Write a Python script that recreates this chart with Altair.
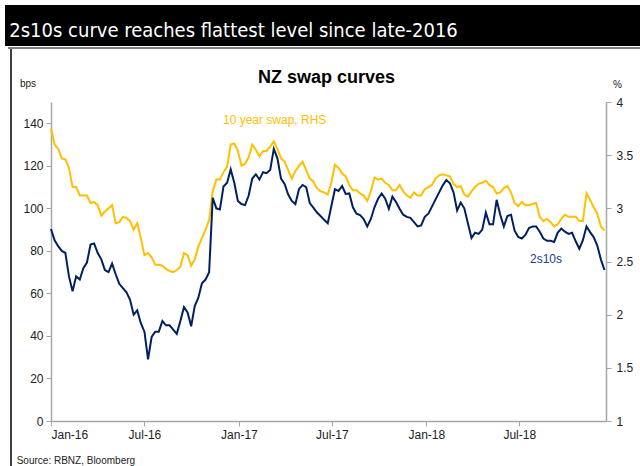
import altair as alt
import pandas as pd

# NZ 10 year swap rate, % (weekly readings from 1 Jan 2016)
swap10_pct = [
    3.75, 3.60, 3.56, 3.47, 3.46, 3.38, 3.20, 3.20, 3.12, 3.12,
    3.12, 3.05, 3.06, 3.03, 2.93, 2.97, 3.00, 3.03, 2.86, 2.87,
    2.92, 2.91, 2.88, 2.80, 2.86, 2.72, 2.56, 2.58, 2.54, 2.47,
    2.47, 2.46, 2.43, 2.41, 2.40, 2.42, 2.45, 2.58, 2.56, 2.46,
    2.52, 2.64, 2.72, 2.80, 2.89, 3.16, 3.27, 3.27, 3.34, 3.39,
    3.60, 3.61, 3.54, 3.40, 3.42, 3.48, 3.60, 3.55, 3.49, 3.54,
    3.54, 3.58, 3.63, 3.56, 3.47, 3.44, 3.36, 3.28, 3.35, 3.40,
    3.44, 3.36, 3.28, 3.25, 3.19, 3.16, 3.15, 3.13, 3.24, 3.41,
    3.38, 3.33, 3.30, 3.22, 3.17, 3.17, 3.14, 3.12, 3.07, 3.16,
    3.29, 3.27, 3.28, 3.24, 3.22, 3.17, 3.17, 3.22, 3.16, 3.12,
    3.10, 3.15, 3.12, 3.12, 3.18, 3.20, 3.22, 3.28, 3.31, 3.32,
    3.31, 3.30, 3.23, 3.20, 3.21, 3.13, 3.11, 3.16, 3.20, 3.23,
    3.24, 3.26, 3.22, 3.20, 3.14, 3.15, 3.19, 3.21, 3.15, 3.05,
    3.02, 3.06, 3.03, 3.03, 3.04, 3.05, 2.92, 2.88, 2.90, 2.87,
    2.83, 2.85, 2.90, 2.94, 2.92, 2.92, 2.92, 2.88, 2.88, 3.14,
    3.08, 3.01, 2.95, 2.83, 2.79,
]

# NZ 2s10s swap curve, bps (weekly readings from 1 Jan 2016)
curve_2s10s_bps = [
    90.3, 85, 82.2, 80, 79, 68, 61, 68, 66.5, 71.9,
    74.5, 83, 83.5, 79, 76, 71, 70, 74, 69, 64.5,
    62.5, 60.5, 57, 50, 52, 46, 42, 29, 39.5, 42,
    42, 47, 45, 45, 43, 41, 47, 53.5, 51, 44.5,
    54, 58, 64.8, 66.5, 70, 105, 100, 99.5, 110.3, 112,
    118.3, 112, 103.5, 102, 101.5, 106, 114, 116, 113.5, 117,
    116.5, 118.1, 128, 123.5, 114, 111.5, 106.5, 103.5, 102, 109,
    111, 110, 102.5, 100.3, 98, 96.4, 94.6, 93, 101, 109,
    108.2, 110.5, 106.8, 107, 100.5, 97.5, 96.8, 95, 91.5, 95,
    100.5, 104.5, 107, 104.5, 99.8, 105.5, 103, 99.8, 97, 96,
    95.5, 93.5, 91.5, 92, 96, 97.5, 100.8, 104.2, 107.5, 110.8,
    113.3, 111.8, 107.5, 99, 102.7, 100, 93, 86, 88.5, 88,
    90, 98, 92.5, 92.5, 104, 97, 91.5, 96.4, 97, 89.5,
    86.5, 85.8, 87.5, 90.7, 91.5, 91.5, 89, 85.8, 84.7, 84.7,
    84.2, 88.6, 90.5, 89, 88, 88.5, 84.5, 81, 85, 91.5,
    88.8, 86.5, 82.5, 76, 71,
]

left_ticks = [0, 20, 40, 60, 80, 100, 120, 140]
right_ticks = [1, 1.5, 2, 2.5, 3, 3.5, 4]
x_tick_months = [(2016, 1), (2016, 7), (2017, 1), (2017, 7), (2018, 1), (2018, 7)]

banner_text = "2s10s curve reaches flattest level since late-2016"
chart_title = "NZ swap curves"
source_text = "Source: RBNZ, Bloomberg"

annotations = pd.DataFrame({
    "date": ["2016-12-01", "2018-07-22"],
    "value": [141.6, 76.3],
    "label": ["10 year swap, RHS", "2s10s"],
    "color": ["#FFC000", "#22408C"],
})

ORANGE = "#FFC000"
NAVY = "#002060"
AXIS_GREY = "#A6A6A6"
FONT = "Liberation Sans"

df10 = pd.DataFrame({
    "date": pd.date_range("2016-01-01", periods=len(swap10_pct), freq="7D").strftime("%Y-%m-%d"),
    "value": swap10_pct,
})
df2s10s = pd.DataFrame({
    "date": pd.date_range("2016-01-01", periods=len(curve_2s10s_bps), freq="7D").strftime("%Y-%m-%d"),
    "value": curve_2s10s_bps,
})

x_scale = alt.Scale(
    type="utc",
    domain=[alt.DateTime(year=2016, month=1, date=1, utc=True),
            alt.DateTime(year=2018, month=12, date=17, utc=True)],
)
x_axis = alt.Axis(
    values=[alt.DateTime(year=y, month=m, date=1, utc=True) for y, m in x_tick_months],
    labelExpr="utcFormat(datum.value, '%b-%y')", title=None, grid=False,
    domainColor=AXIS_GREY, domainWidth=1.5, tickColor=AXIS_GREY, tickSize=5,
    labelFontSize=12, labelColor="#222222", labelPadding=3, labelFont=FONT,
)
x_enc = alt.X("date:T", scale=x_scale, axis=x_axis)

left_line = alt.Chart(df2s10s).mark_line(color=NAVY, strokeWidth=2).encode(
    x=x_enc,
    y=alt.Y("value:Q", scale=alt.Scale(domain=[0, 150], nice=False, zero=False),
            axis=alt.Axis(values=left_ticks, format="d", title=None, grid=False, orient="left",
                          domainColor=AXIS_GREY, domainWidth=1.5, tickColor=AXIS_GREY, tickSize=5,
                          labelFontSize=12, labelColor="#222222", labelPadding=3, labelFont=FONT)),
)

right_line = alt.Chart(df10).mark_line(color=ORANGE, strokeWidth=2).encode(
    x=x_enc,
    y=alt.Y("value:Q", scale=alt.Scale(domain=[1, 4], nice=False, zero=False),
            axis=alt.Axis(values=right_ticks, format="~g", title=None, grid=False, orient="right",
                          domainColor=AXIS_GREY, domainWidth=1.5, tickColor=AXIS_GREY, tickSize=5,
                          labelFontSize=12, labelColor="#222222", labelPadding=5, labelFont=FONT)),
)

ann = alt.Chart(annotations).mark_text(align="left", baseline="middle", fontSize=12, font=FONT).encode(
    x=x_enc,
    y=alt.Y("value:Q", scale=alt.Scale(domain=[0, 150], nice=False, zero=False), axis=None),
    text="label:N",
    color=alt.Color("color:N", scale=None),
)

one = pd.DataFrame({"k": [0]})

banner = alt.Chart(one).mark_rect(color="black").encode(
    x=alt.value(-46), x2=alt.value(589), y=alt.value(-97), y2=alt.value(-56)
)
banner_title = alt.Chart(one).mark_text(
    align="left", baseline="alphabetic", color="white", fontSize=20,
    font="DejaVu Sans Condensed, Liberation Sans",
).encode(x=alt.value(-41.7), y=alt.value(-65), text=alt.value(banner_text))

grey_rule = alt.Chart(one).mark_rule(color="#7F7F7F", strokeWidth=2).encode(
    x=alt.value(-43), x2=alt.value(589), y=alt.value(-54)
)
left_border = alt.Chart(one).mark_rule(color="black", strokeWidth=1.5).encode(
    x=alt.value(-40), y=alt.value(-53), y2=alt.value(364)
)
title_mark = alt.Chart(one).mark_text(
    align="center", baseline="alphabetic", fontSize=18, fontWeight="bold", font=FONT, color="black"
).encode(x=alt.value(275.5), y=alt.value(-19), text=alt.value(chart_title))
bps_mark = alt.Chart(one).mark_text(
    align="center", baseline="alphabetic", fontSize=10, font=FONT, color="#222222"
).encode(x=alt.value(-23), y=alt.value(-15.5), text=alt.value("bps"))
pct_mark = alt.Chart(one).mark_text(
    align="center", baseline="alphabetic", fontSize=10, font=FONT, color="#222222"
).encode(x=alt.value(566.5), y=alt.value(-14), text=alt.value("%"))
source_mark = alt.Chart(one).mark_text(
    align="left", baseline="alphabetic", fontSize=10, font=FONT, color="#222222"
).encode(x=alt.value(-34.3), y=alt.value(362), text=alt.value(source_text))

chart = alt.layer(
    banner, banner_title, grey_rule, left_border, title_mark, bps_mark, pct_mark, source_mark,
    right_line, left_line, ann,
).resolve_scale(y="independent").properties(
    width=555, height=319,
    autosize=alt.AutoSizeParams(type="none"),
    padding={"left": 51, "top": 102, "right": 34, "bottom": 45},
    background="white",
).configure_view(stroke=None)

chart.save("out.html", embed_options={"renderer": "svg", "actions": False})
